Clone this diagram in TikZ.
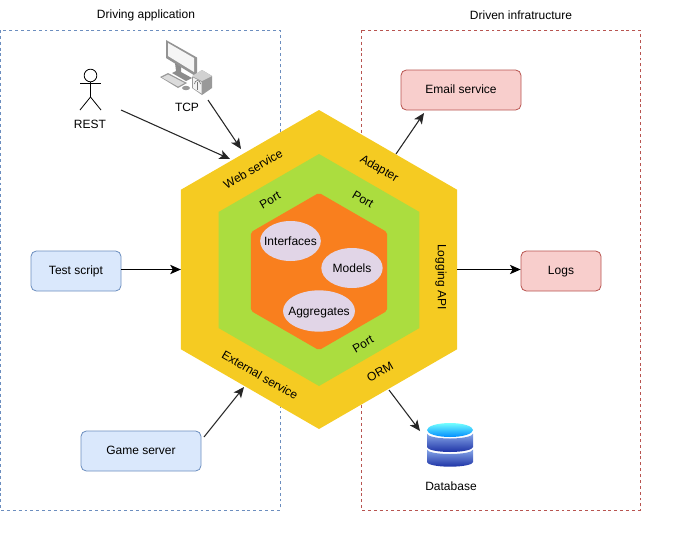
\documentclass[tikz,border=0pt]{standalone}
\usepackage{fontspec}
\setmainfont{Liberation Sans}
\usetikzlibrary{shapes.geometric,arrows.meta}
\definecolor{bluefill}{HTML}{DAE8FC}
\definecolor{blueline}{HTML}{6C8EBF}
\definecolor{redfill}{HTML}{F8CECC}
\definecolor{redline}{HTML}{B85450}
\definecolor{adapterfill}{HTML}{F5CB22}
\definecolor{portfill}{HTML}{ABDD3F}
\definecolor{corefill}{HTML}{F97F1E}
\definecolor{modelfill}{HTML}{E1D5E7}
\definecolor{dblight}{HTML}{86A6E8}
\definecolor{dbdark}{HTML}{1E33A6}
\tikzset{
    zone/.style={draw,dash pattern=on 2.2pt off 2.2pt,line width=0.5pt},
    bluebox/.style={draw=blueline,fill=bluefill,rounded corners=4pt,line width=0.6pt,font=\small,text height=7pt,text depth=1.5pt},
    redbox/.style={draw=redline,fill=redfill,rounded corners=4pt,line width=0.6pt,font=\small,text height=7pt,text depth=1.5pt},
    hexagon/.style={regular polygon,regular polygon sides=6,shape border rotate=30,inner sep=0pt,outer sep=0pt},
    model/.style={ellipse,fill=modelfill,inner sep=0pt,font=\small,text height=7.5pt,text depth=1.3pt},
    label/.style={font=\small,inner sep=0pt},
    link/.style={draw=black!85,line width=0.8pt,-{Stealth[length=8pt,width=7pt,inset=2pt]}}
}
\begin{document}
\begin{tikzpicture}[x=0.75pt,y=-0.75pt]
    \useasboundingbox (0,0) rectangle (681,550);

    % zones
    \draw[zone,draw=blueline] (0,30) rectangle (280,510);
    \draw[zone,draw=redline] (361,30) rectangle (640,510);
    \node[label] (driving) at (146,15) {Driving application};
    \node[label] (driven) at (521,15) {Driven infratructure};

    % hexagons
    \node[hexagon,fill=adapterfill,minimum size=239.25pt] (adapter) at (319,269.5) {};
    \node[hexagon,fill=portfill,minimum size=174pt] (port) at (319,270) {};
    \node[hexagon,fill=corefill,minimum size=118pt,rounded corners=1.5pt] (core) at (319,271.5) {};

    \node[model,minimum width=45.5pt,minimum height=30pt] (interfaces) at (290.5,241) {\makebox[0pt]{Interfaces}};
    \node[model,minimum width=46pt,minimum height=30pt] (models) at (352,268) {\makebox[0pt]{Models}};
    \node[model,minimum width=54pt,minimum height=31pt] (aggregates) at (319,311) {\makebox[0pt]{Aggregates}};

    \node[label,rotate=30] (webservice) at (253,169) {Web service};
    \node[label,rotate=-30] (adapterlabel) at (379,169) {Adapter};
    \node[label,rotate=-90] (logging) at (441,277) {Logging API};
    \node[label,rotate=30] (orm) at (380,372) {ORM};
    \node[label,rotate=-30] (external) at (260,375) {External service};
    \node[label,rotate=30] (port1) at (270,200) {Port};
    \node[label,rotate=-30] (port2) at (363,199) {Port};
    \node[label,rotate=30] (port3) at (363,344) {Port};

    % boxes
    \node[bluebox,minimum width=67.5pt,minimum height=30pt] (testscript) at (76,271) {Test script};
    \node[bluebox,minimum width=90pt,minimum height=30pt] (gameserver) at (141,451) {Game server};
    \node[redbox,minimum width=90pt,minimum height=30pt] (email) at (461,90) {Email service};
    \node[redbox,minimum width=60pt,minimum height=30pt] (logs) at (561,271) {Logs};

    % actor
    \node[circle,draw,line width=0.6pt,minimum size=9.5pt,inner sep=0pt] (head) at (90.5,75.5) {};
    \coordinate (hip) at (90.5,97);
    \draw[line width=0.6pt] (head) -- (hip) -- (80,110);
    \draw[line width=0.6pt] (hip) -- (101,110);
    \draw[line width=0.6pt] (80,83) -- (101,83);
    \node[label] (rest) at (90,124) {REST};

    % computer
    \fill[black!42] (166,40) -- (197,57.5) -- (197,77) -- (166,58) -- cycle;
    \fill[black!4] (168,43) -- (194,58) -- (194,72) -- (168,56) -- cycle;
    \fill[black!45] (175,63) -- (181,67) -- (181,72) -- (192,78) -- (186,81) -- (172,73) -- (176,71) -- cycle;
    \fill[black!40] (160,77) -- (168,73) -- (187,83) -- (178,88) -- cycle;
    \fill[black!14] (162,77.5) -- (168,74.5) -- (184.5,83) -- (178,86.5) -- cycle;
    \fill[black!40] (186,88) ellipse (4 and 2.2);
    \fill[black!40] (192,77) -- (202,70) -- (212,76) -- (212,88) -- (202,95) -- (192,88) -- cycle;
    \fill[black!18] (192,76) -- (202,70) -- (212,76) -- (202,81) -- cycle;
    \fill[black!5] (193,77.5) -- (201.5,82) -- (201.5,93.5) -- (193,88) -- cycle;
    \draw[black!55,line width=0.5pt] (194.5,84) arc[start angle=180,end angle=360,x radius=3,y radius=3.5];
    \draw[black!55,line width=0.8pt] (197.5,82) -- (197.5,90);
    \node[label] (tcp) at (187,107) {TCP};

    % database
    \shade[top color=dblight,bottom color=dbdark] (427,449.5) arc[start angle=180,end angle=0,x radius=23,y radius=4.5] -- (473,462) arc[start angle=0,end angle=180,x radius=23,y radius=4.7] -- cycle;
    \shade[top color=dblight,bottom color=dbdark] (427,433.5) arc[start angle=180,end angle=0,x radius=23,y radius=5] -- (473,447) arc[start angle=0,end angle=180,x radius=23,y radius=5] -- cycle;
    \shade[top color=cyan!55!white,bottom color=blue!45!cyan] (450,430) ellipse (23 and 7);
    \node[label] (database) at (451,486) {Database};

    % links
    \coordinate (restout) at (121,110);
    \coordinate (tcpout) at (208,100);
    \coordinate (webin) at (230,159);
    \coordinate (webin2) at (241,149);
    \coordinate (extin) at (244,387);
    \coordinate (adaptout) at (396,154);
    \coordinate (emailin) at (424,113);
    \coordinate (ormout) at (389,390);
    \coordinate (dbin) at (420,431);
    \coordinate (gameout) at (204,437);
    \path[link] (restout) -- (webin);
    \path[link] (tcpout) -- (webin2);
    \path[link,draw=black] (testscript.east |- adapter.west) -- (adapter.west);
    \path[link] (gameout) -- (extin);
    \path[link] (adaptout) -- (emailin);
    \path[link,draw=black] (adapter.east) -- (adapter.east -| logs.west);
    \path[link] (ormout) -- (dbin);
\end{tikzpicture}
\end{document}
